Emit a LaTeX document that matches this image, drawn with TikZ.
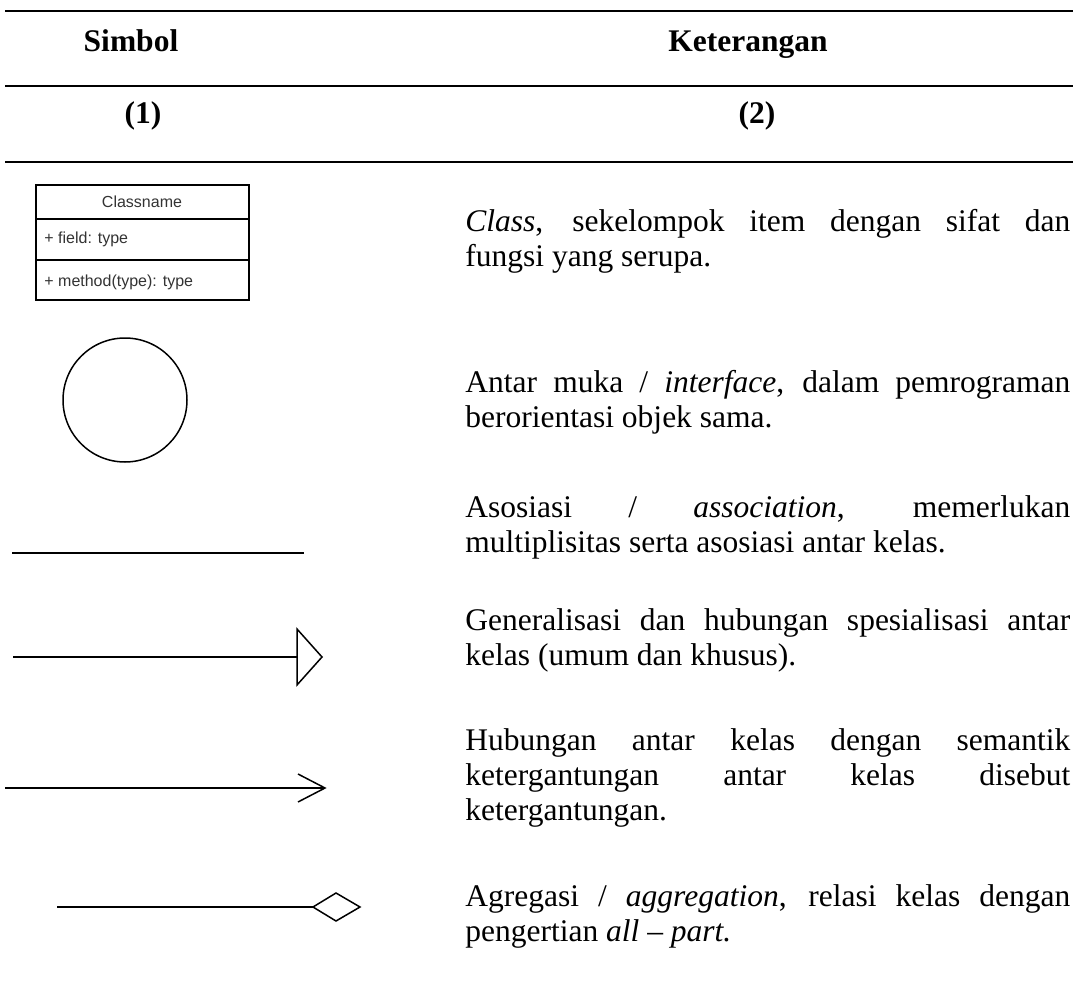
\documentclass[tikz,border=0pt]{standalone}
\usepackage{fontspec}
\setmainfont{Liberation Serif}
\setsansfont{Liberation Sans}
\newcommand\desctext[1]{\parbox[t]{302.5pt}{\tolerance=10000\hbadness=10000 #1}}
\begin{document}
\begin{tikzpicture}[x=0.5pt,y=-0.5pt,
  rule/.style={line width=1pt},
  glyph/.style={line width=0.75pt, line join=miter},
  head/.style={font=\fontsize{15.75}{17.5}\selectfont\bfseries, anchor=base, inner sep=0},
  desc/.style={anchor=base west, inner sep=0, font=\fontsize{15.75}{17.5}\selectfont},
  member/.style={font=\sffamily\fontsize{8}{9.6}\selectfont, text=black!80, inner sep=0},
]
\useasboundingbox (0,0) rectangle (1076,1000);
\fill[white] (0,0) rectangle (1076,1000);

% table rules
\coordinate (r1l) at (5,11);   \coordinate (r1r) at (1073,11);
\coordinate (r2l) at (5,86);   \coordinate (r2r) at (1073,86);
\coordinate (r3l) at (5,162);  \coordinate (r3r) at (1073,162);
\draw[rule] (r1l) -- (r1r);
\draw[rule] (r2l) -- (r2r);
\draw[rule] (r3l) -- (r3r);

% headings
\node[head] (hsym) at (131,52) {Simbol};
\node[head] (hdesc) at (748,52) {Keterangan};
\node[head] (nsym) at (143,124) {(1)};
\node[head] (ndesc) at (757,124) {(2)};

% class symbol
\draw[glyph] (36,185) rectangle (249,300);
\coordinate (d1l) at (36,219); \coordinate (d1r) at (249,219);
\coordinate (d2l) at (36,260); \coordinate (d2r) at (249,260);
\draw[glyph] (d1l) -- (d1r);
\draw[glyph] (d2l) -- (d2r);
\node[member] (cname) at (142,202) {Classname};
\node[member, anchor=west] (cfield) at (44,239) {+ field: type};
\node[member, anchor=west] (cmethod) at (44,282) {+ method(type): type};

% interface symbol
\node[glyph, draw, circle, minimum size=62pt, inner sep=0] (iface) at (125,400) {};

% association
\coordinate (a0) at (12,553); \coordinate (a1) at (304,553);
\draw[glyph] (a0) -- (a1);

% generalization
\coordinate (g0) at (13,657); \coordinate (g1) at (297,657);
\coordinate (gt) at (297,629); \coordinate (gp) at (322,657); \coordinate (gb) at (297,685);
\draw[glyph] (g0) -- (g1);
\draw[glyph] (gt) -- (gp) -- (gb) -- cycle;

% dependency
\coordinate (e0) at (5,788); \coordinate (e1) at (325,788);
\coordinate (et) at (298,774); \coordinate (eb) at (298,802);
\draw[glyph] (e0) -- (e1);
\draw[glyph] (et) -- (e1) -- (eb);

% aggregation
\coordinate (k0) at (57,907); \coordinate (k1) at (313,907);
\coordinate (kt) at (336,893); \coordinate (kr) at (360,907); \coordinate (kb) at (336,921);
\draw[glyph] (k0) -- (k1);
\draw[glyph] (k1) -- (kt) -- (kr) -- (kb) -- cycle;

% descriptions
\node[desc] (t1) at (465,232) {\desctext{\textit{Class}, sekelompok item dengan sifat dan \linebreak fungsi yang serupa.}};
\node[desc] (t2) at (465,392) {\desctext{Antar muka / \textit{interface}, dalam pemrograman \linebreak berorientasi objek sama.}};
\node[desc] (t3) at (465,517) {\desctext{Asosiasi / \textit{association}, memerlukan \linebreak multiplisitas serta asosiasi antar kelas.}};
\node[desc] (t4) at (465,630) {\desctext{Generalisasi dan hubungan spesialisasi antar \linebreak kelas (umum dan khusus).}};
\node[desc] (t5) at (465,750) {\desctext{Hubungan antar kelas dengan semantik \linebreak ketergantungan antar kelas disebut \linebreak ketergantungan.}};
\node[desc] (t6) at (465,906) {\desctext{Agregasi / \textit{aggregation}, relasi kelas dengan \linebreak pengertian \textit{all -- part.}}};
\end{tikzpicture}
\end{document}
